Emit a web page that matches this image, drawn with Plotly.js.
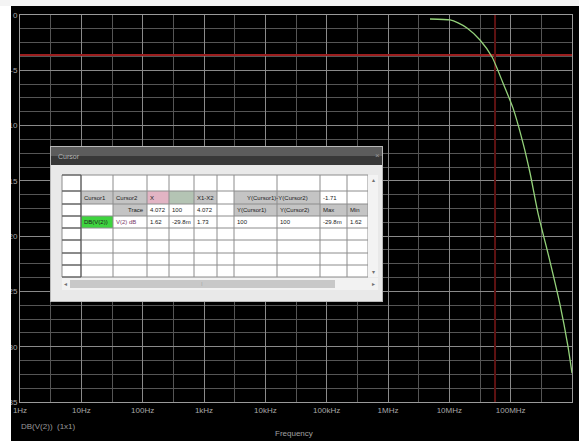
<!DOCTYPE html>
<html><head><meta charset="utf-8">
<script src="https://cdn.plot.ly/plotly-3.0.1.min.js"></script>
<style>html,body{margin:0;padding:0;background:#fff;overflow:hidden;} #chart{width:579px;height:441px;}</style>
</head><body><div id="chart"></div>
<script>
// ---- data ----
const freqHz = [4.84e6, 1.03e7, 1.39e7, 1.94e7, 3.16e7, 4.97e7, 7.50e7, 1.09e8, 1.59e8, 2.07e8, 2.79e8, 4.38e8, 6.38e8, 8.61e8, 1.0e9];
const gainDb = [-0.36, -0.45, -0.72, -1.18, -2.26, -3.80, -6.15, -8.4, -11.58, -14.29, -17.91, -22.3, -26.2, -30.0, -32.4];
const xTickVals = [1, 10, 100, 1e3, 1e4, 1e5, 1e6, 1e7, 1e8, 1e9];
const xTickText = ['1Hz', '10Hz', '100Hz', '1kHz', '10kHz', '100kHz', '1MHz', '10MHz', '100MHz', '1GHz'];
const xMinorVals = [3.162, 31.62, 316.2, 3162, 31623, 316228, 3.162e6, 3.162e7, 3.162e8];
const yTickVals = [0, -5, -10, -15, -20, -25, -30, -35];
const yTickText = ['0', '-5', '-10', '-15', '-20', '-25', '-30', '-35'];
const cursorFreqHz = [5.56e7];
const cursorLevelDb = [-3.62];
const traceName = 'DB(V(2))';
const legendText = 'DB(V(2))  (1x1)';
const axisTitle = 'Frequency';
const windowTitle = 'Cursor';
// cursor table (rows x 10 columns)
const tableRow1 = ['Cursor1', 'Cursor2', 'X', '', 'X1-X2', '', 'Y(Cursor1)-Y(Cursor2)', '', '-1.71', ''];
const tableRow2 = ['', 'Trace', '4.072', '100', '4.072', '', 'Y(Cursor1)', 'Y(Cursor2)', 'Max', 'Min'];
const tableRow3 = ['DB(V(2))', 'V(2) dB', '1.62', '-29.8m', '1.73', '', '100', '100', '-29.8m', '1.62'];

// ---- layout helpers (pixel -> paper) ----
const L = 20, R = 572, T = 15, B = 402;
const px = x => (x - L) / (R - L);
const py = y => (B - y) / (B - T);
const shapes = [], annotations = [];
function rect(x0, y0, x1, y1, fill, line, lw) {
  shapes.push({type: 'rect', xref: 'paper', yref: 'paper', x0: px(x0), x1: px(x1), y0: py(y1), y1: py(y0),
    fillcolor: fill, line: {color: line || fill, width: lw || 0}, layer: 'above'});
}
function seg(x0, y0, x1, y1, color, w) {
  shapes.push({type: 'line', xref: 'paper', yref: 'paper', x0: px(x0), x1: px(x1), y0: py(y0), y1: py(y1),
    line: {color: color, width: w || 1}, layer: 'above'});
}
function txt(x, y, s, size, color, anchor) {
  annotations.push({xref: 'paper', yref: 'paper', x: px(x), y: py(y), text: s, showarrow: false,
    xanchor: anchor || 'left', yanchor: 'middle', borderpad: 0,
    font: {family: 'Liberation Sans, Arial, sans-serif', size: size, color: color}});
}

// white screenshot borders
shapes.push({type: 'rect', xref: 'paper', yref: 'paper', x0: px(-5), x1: px(11), y0: py(450), y1: py(-5), fillcolor: '#ffffff', line: {width: 0}, layer: 'above'});
shapes.push({type: 'rect', xref: 'paper', yref: 'paper', x0: px(-5), x1: px(585), y0: py(6), y1: py(-5), fillcolor: '#f4f4f4', line: {width: 0}, layer: 'above'});

// cursor window
const C = [62, 81, 113, 147, 169, 194, 217, 234, 277, 320, 347, 368];
const RW = [175, 191, 204, 216, 228, 240, 253, 265, 277];
rect(50, 146, 383, 302, '#b8b8b8');
rect(51, 147, 382, 156, '#5c5c5c');
rect(51, 156, 382, 165, '#383838');
rect(51, 165, 382, 301, '#e9e9e9');
rect(62, 175, 368, 277, '#ffffff');
txt(57, 156, windowTitle, 7, '#b4b4b4');
txt(377, 155, '×', 8, '#9a9a9a', 'center');
// cell backgrounds
const gray = '#c4c4c4';
rect(C[1], RW[1], C[3], RW[2], gray);
rect(C[3], RW[1], C[4], RW[2], '#e2b4c4');
rect(C[4], RW[1], C[5], RW[2], '#b4c4b4');
rect(C[5], RW[1], C[6], RW[2], gray);
rect(C[7], RW[1], C[9], RW[2], gray);
rect(C[2], RW[2], C[3], RW[3], gray);
rect(C[7], RW[2], C[11], RW[3], gray);
rect(C[1], RW[3], C[2], RW[4], '#3ed43e');
// grid lines
RW.forEach(y => seg(C[0], y, C[11], y, '#8c8c8c', 1));
C.forEach(x => seg(x, RW[0], x, RW[RW.length - 1], '#8c8c8c', 1));
RW.forEach(y => seg(C[0], y, C[1], y, '#505050', 1));
seg(C[1], RW[0], C[1], RW[RW.length - 1], '#505050', 1);
// texts
const rows = [tableRow1, tableRow2, tableRow3];
rows.forEach((row, r) => {
  const yc = (RW[r + 1] + RW[r + 2]) / 2;
  row.forEach((s, c) => {
    if (!s) return;
    let x0 = C[c + 1], x1 = C[c + 2];
    if (r === 0 && c === 6) { x1 = C[c + 3]; txt((x0 + x1) / 2, yc, s, 6, '#202020', 'center'); return; }
    if (r === 1 && c === 1) { txt(x1 - 2, yc, s, 6, '#202020', 'right'); return; }
    txt(x0 + 2, yc, s, 6, (r === 2 && c === 1) ? '#7a3a6a' : '#202020');
  });
});
// scrollbars
rect(368, 175, 378, 277, '#f3f3f3');
txt(373, 180, '▴', 6, '#707070', 'center');
txt(373, 272, '▾', 6, '#707070', 'center');
rect(62, 278, 378, 290, '#f2f2f2');
rect(70, 280, 335, 288, '#c8c8c8');
txt(65, 284, '◂', 6, '#707070', 'center');
txt(373, 284, '▸', 6, '#707070', 'center');
txt(202, 284, '⁞', 6, '#8a8a8a', 'center');

// bottom texts
txt(20, 426, legendText, 8, '#9a9a9a');
annotations.push({xref: 'paper', yref: 'paper', x: px(294), y: py(440), text: axisTitle, showarrow: false,
  xanchor: 'center', yanchor: 'bottom', font: {family: 'Liberation Sans, Arial, sans-serif', size: 8, color: '#a0a0a0'}});

const traces = [
  {x: [xTickVals[0], xTickVals[xTickVals.length - 1]], y: [cursorLevelDb[0], cursorLevelDb[0]], mode: 'lines',
   line: {color: '#9c1e1e', width: 2}, hoverinfo: 'skip', showlegend: false},
  {x: [cursorFreqHz[0], cursorFreqHz[0]], y: [yTickVals[0], yTickVals[yTickVals.length - 1]], mode: 'lines',
   line: {color: '#5e1212', width: 2}, hoverinfo: 'skip', showlegend: false},
  {x: freqHz, y: gainDb, mode: 'lines', name: traceName, line: {color: '#94d27a', width: 1.3, shape: 'spline', smoothing: 0.6}, showlegend: false}
];

const axFont = {family: 'Liberation Sans, Arial, sans-serif', size: 8, color: '#a8a8a8'};
const layout = {
  width: 579, height: 441,
  margin: {l: L, r: 579 - R, t: T, b: 441 - B},
  paper_bgcolor: '#000000', plot_bgcolor: '#000000',
  showlegend: false,
  xaxis: {type: 'log', range: [0, 9], tickmode: 'array', tickvals: xTickVals, ticktext: xTickText,
    showgrid: true, gridcolor: '#8a8a8a', gridwidth: 1, zeroline: false,
    showline: true, linecolor: '#9a9a9a', mirror: true, ticks: '', tickfont: axFont,
    minor: {tickmode: 'array', tickvals: xMinorVals, showgrid: true, gridcolor: '#555555', gridwidth: 1}},
  yaxis: {range: [-35, 0], tickmode: 'array', tickvals: yTickVals, ticktext: yTickText,
    showgrid: true, gridcolor: '#8a8a8a', gridwidth: 1, zeroline: false,
    showline: true, linecolor: '#9a9a9a', mirror: true, ticks: '', tickfont: axFont,
    minor: {dtick: 1.25, showgrid: true, gridcolor: '#555555', gridwidth: 1}},
  shapes: shapes, annotations: annotations
};
Plotly.newPlot('chart', traces, layout, {staticPlot: true, displayModeBar: false});
</script></body></html>
